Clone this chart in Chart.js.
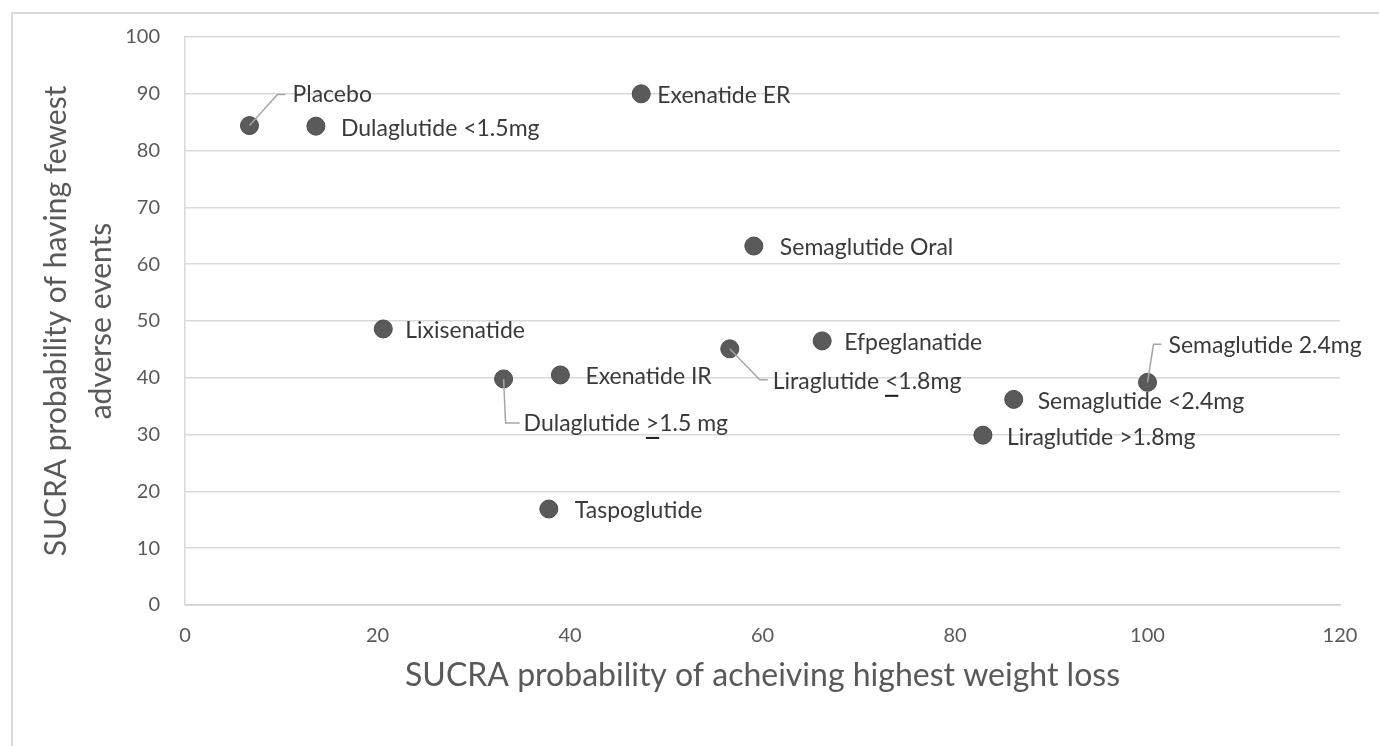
<!DOCTYPE html>
<html>
<head>
<meta charset="utf-8">
<script src="https://cdn.jsdelivr.net/npm/chart.js@4.4.1/dist/chart.umd.min.js"></script>
<style>
    body { margin: 0; background: #fff; }
    #quadro { width: 1379px; height: 746px; }
</style>
</head>
<body>
<div id="quadro"><canvas id="graficoSucra"></canvas></div>
<script>
const drugs = [
    "Placebo", "Dulaglutide <1.5mg", "Exenatide ER", "Semaglutide Oral", "Lixisenatide",
    "Efpeglanatide", "Liraglutide <1.8mg", "Exenatide IR", "Dulaglutide >1.5 mg",
    "Semaglutide 2.4mg", "Semaglutide <2.4mg", "Liraglutide >1.8mg", "Taspoglutide"
];
const weightLossSucra = [6.7, 13.6, 47.4, 59.1, 20.6, 66.2, 56.6, 39.0, 33.1, 100.0, 86.1, 82.9, 37.8];
const adverseEventSucra = [84.4, 84.3, 90.0, 63.2, 48.6, 46.5, 45.1, 40.5, 39.8, 39.2, 36.2, 29.9, 16.9];
const xTicks = [0, 20, 40, 60, 80, 100, 120];
const yTicks = [0, 10, 20, 30, 40, 50, 60, 70, 80, 90, 100];

// onde fica cada rótulo, em px relativos ao ponto (linha guia quando o rótulo foi arrastado)
const posicaoRotulos = [
    { dx: 43, dy: -31, guia: [[28, -31], [36, -31]] },
    { dx: 25, dy: 2 },
    { dx: 16, dy: 2 },
    { dx: 26, dy: 2 },
    { dx: 22, dy: 2 },
    { dx: 22, dy: 2 },
    { dx: 43, dy: 33, guia: [[30, 31], [38, 31]], sublinhar: "<" },
    { dx: 25, dy: 2 },
    { dx: 20, dy: 45, guia: [[2, 44], [16, 44]], sublinhar: ">" },
    { dx: 21, dy: -37, guia: [[6, -38], [14, -38]] },
    { dx: 24, dy: 2 },
    { dx: 24, dy: 2 },
    { dx: 26, dy: 2 }
];

const fonte = "Lato, 'Open Sans', sans-serif";

const moldura = {
    id: "moldura",
    beforeDraw(chart) {
        let ctx = chart.ctx;
        ctx.save();
        ctx.strokeStyle = "#d9d9d9";
        ctx.lineWidth = 2;
        ctx.beginPath();
        ctx.moveTo(12, chart.height);
        ctx.lineTo(12, 13);
        ctx.lineTo(chart.width, 13);
        ctx.stroke();
        ctx.restore();
    }
};

const rotulos = {
    id: "rotulos",
    afterDatasetsDraw(chart) {
        let ctx = chart.ctx;
        let pontos = chart.getDatasetMeta(0).data;
        ctx.save();
        ctx.font = "23px " + fonte;
        ctx.textBaseline = "middle";
        ctx.textAlign = "left";
        pontos.forEach((p, i) => {
            let pos = posicaoRotulos[i];
            if (pos.guia) {
                ctx.strokeStyle = "#a6a6a6";
                ctx.lineWidth = 1.5;
                ctx.beginPath();
                ctx.moveTo(p.x, p.y);
                pos.guia.forEach(g => ctx.lineTo(p.x + g[0], p.y + g[1]));
                ctx.stroke();
            }
            let x = p.x + pos.dx;
            let y = p.y + pos.dy;
            let texto = drugs[i];
            ctx.fillStyle = "#3a3a3a";
            ctx.fillText(texto, x, y);
            if (pos.sublinhar) {
                let k = texto.indexOf(pos.sublinhar);
                let x0 = x + ctx.measureText(texto.slice(0, k)).width;
                let w = ctx.measureText(pos.sublinhar).width;
                ctx.strokeStyle = "#1a1a1a";
                ctx.lineWidth = 2;
                ctx.beginPath();
                ctx.moveTo(x0, y + 14);
                ctx.lineTo(x0 + w, y + 14);
                ctx.stroke();
            }
        });
        ctx.restore();
    }
};

new Chart(document.getElementById("graficoSucra"), {
    type: "scatter",
    data: {
        datasets: [{
            label: "SUCRA",
            data: weightLossSucra.map((v, i) => ({ x: v, y: adverseEventSucra[i] })),
            backgroundColor: "#5a5a5a",
            borderColor: "#4a4a4a",
            borderWidth: 1,
            pointRadius: 9,
            pointHoverRadius: 9
        }]
    },
    options: {
        responsive: true,
        maintainAspectRatio: false,
        animation: false,
        layout: { padding: { top: 36, right: 39, left: 0, bottom: 0 } },
        plugins: {
            legend: { display: false },
            tooltip: { enabled: false }
        },
        scales: {
            x: {
                type: "linear",
                min: 0,
                max: 120,
                afterFit: s => { s.height = 141; },
                afterBuildTicks: s => { s.ticks = xTicks.map(v => ({ value: v })); },
                grid: { display: false },
                border: { display: true, color: "#cfcfcf", width: 1.5 },
                ticks: { color: "#595959", padding: 11, font: { family: fonte, size: 20 } },
                title: {
                    display: true,
                    text: "SUCRA probability of acheiving highest weight loss",
                    color: "#595959",
                    font: { family: fonte, size: 32 },
                    padding: { top: 0, bottom: 51 }
                }
            },
            y: {
                min: 0,
                max: 100,
                afterFit: s => { s.width = 185; },
                afterBuildTicks: s => { s.ticks = yTicks.map(v => ({ value: v })); },
                grid: { color: "#d9d9d9", lineWidth: 1.5, drawTicks: false },
                border: { display: true, color: "#d9d9d9", width: 1.5 },
                ticks: { color: "#595959", padding: 25, font: { family: fonte, size: 20 } },
                title: {
                    display: true,
                    text: ["SUCRA probability of having fewest", "adverse events"],
                    color: "#595959",
                    font: { family: fonte, size: 30, lineHeight: 1.5 },
                    padding: { top: 34, bottom: 0 }
                }
            }
        }
    },
    plugins: [moldura, rotulos]
});
</script>
</body>
</html>
